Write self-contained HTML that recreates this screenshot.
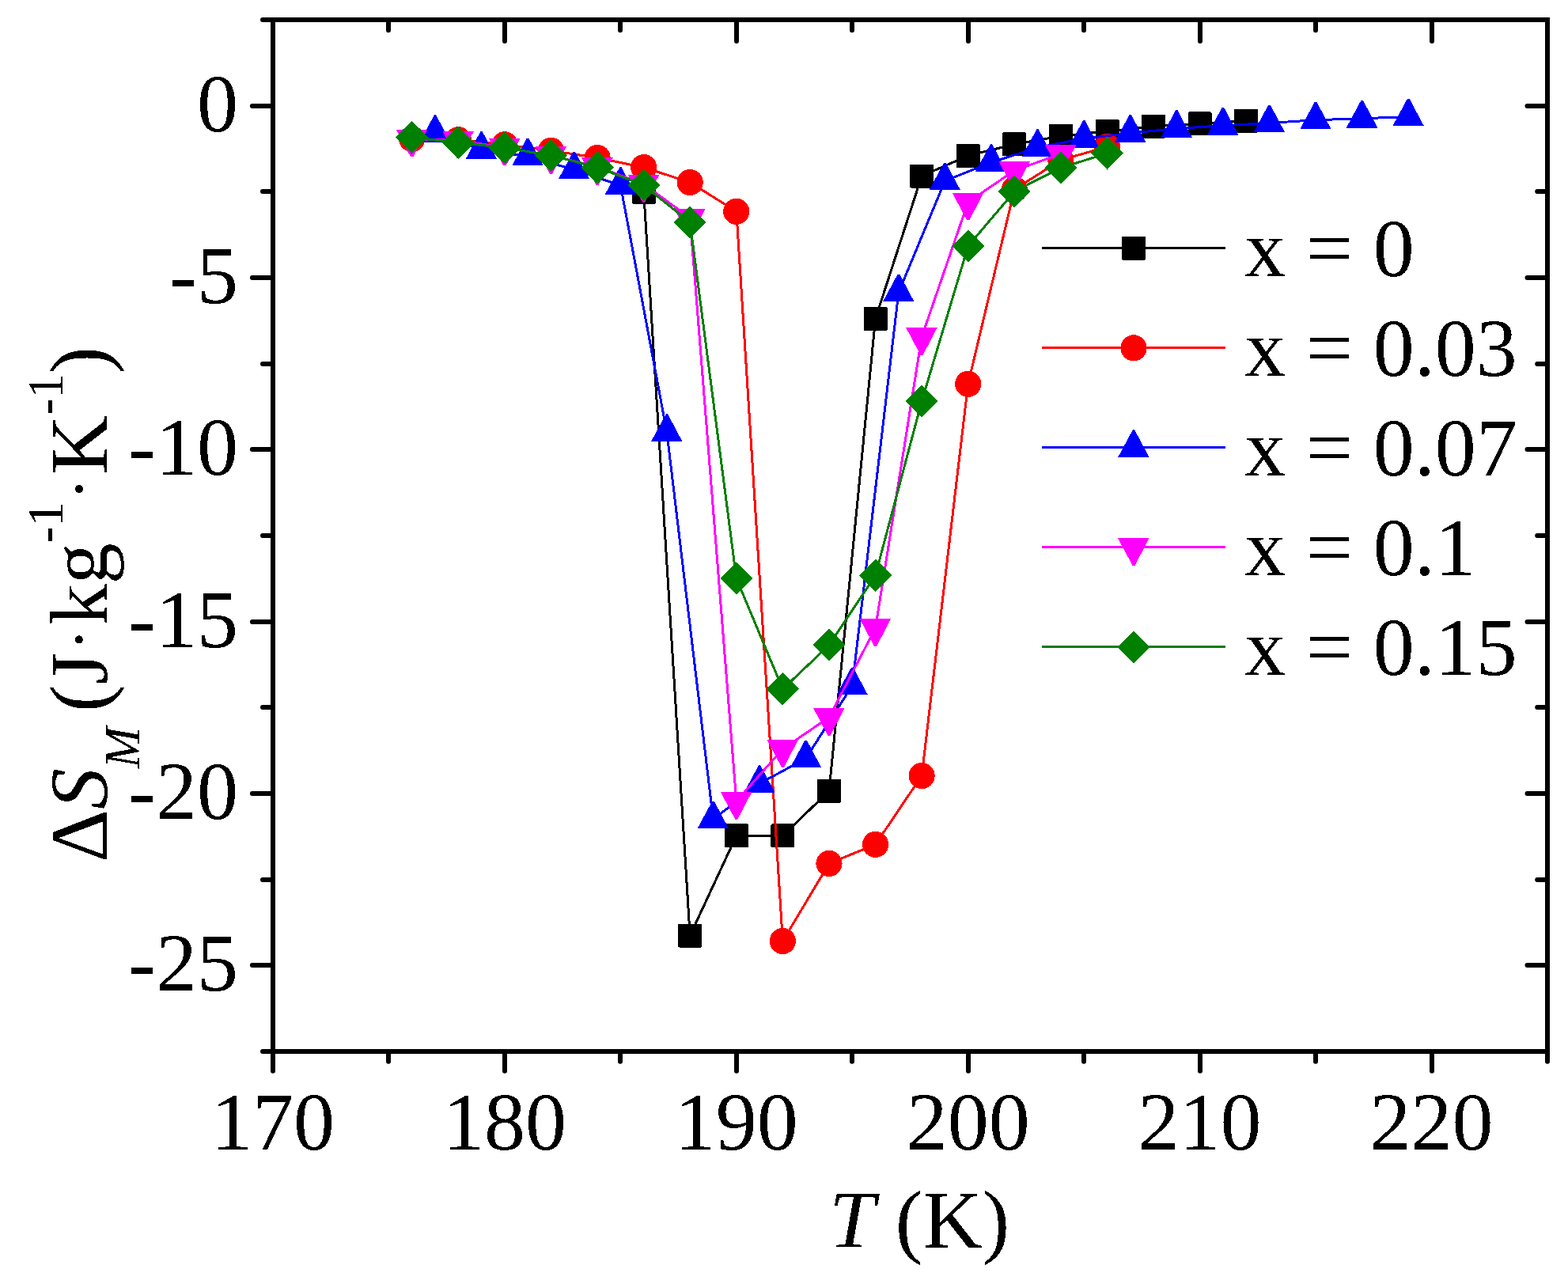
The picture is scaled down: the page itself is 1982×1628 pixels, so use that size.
<!DOCTYPE html>
<html><head><meta charset="utf-8"><title>Entropy change plot</title>
<style>
html,body{margin:0;padding:0;background:#fff;}
svg{display:block;}
text{font-family:"Liberation Serif","Times New Roman",serif;font-size:104px;fill:#000;}
</style></head><body>
<svg width="1982" height="1628" viewBox="0 0 1982 1628">
<defs><filter id="bin" filterUnits="userSpaceOnUse" x="0" y="0" width="1982" height="1628"><feComponentTransfer><feFuncA type="discrete" tableValues="0 1"/></feComponentTransfer></filter></defs>
<rect width="1982" height="1628" fill="#fff"/>
<g id="plot" shape-rendering="crispEdges">
<polyline points="813.7,242.7 872.2,1182.5 930.8,1056.4 989.4,1056.4 1048,999.8 1106.6,402.9 1165.1,222.5 1223.7,196.8 1282.3,182.4 1340.9,172 1399.5,165.9 1458.1,159.8 1516.6,156.4 1575.2,152.6" fill="none" stroke="#000000" stroke-width="3" stroke-linejoin="round"/>
<rect x="798.7" y="227.7" width="30" height="30" rx="1.5" fill="#000000"/><rect x="857.2" y="1167.5" width="30" height="30" rx="1.5" fill="#000000"/><rect x="915.8" y="1041.4" width="30" height="30" rx="1.5" fill="#000000"/><rect x="974.4" y="1041.4" width="30" height="30" rx="1.5" fill="#000000"/><rect x="1033" y="984.8" width="30" height="30" rx="1.5" fill="#000000"/><rect x="1091.6" y="387.9" width="30" height="30" rx="1.5" fill="#000000"/><rect x="1150.1" y="207.5" width="30" height="30" rx="1.5" fill="#000000"/><rect x="1208.7" y="181.8" width="30" height="30" rx="1.5" fill="#000000"/><rect x="1267.3" y="167.4" width="30" height="30" rx="1.5" fill="#000000"/><rect x="1325.9" y="157" width="30" height="30" rx="1.5" fill="#000000"/><rect x="1384.5" y="150.9" width="30" height="30" rx="1.5" fill="#000000"/><rect x="1443.1" y="144.8" width="30" height="30" rx="1.5" fill="#000000"/><rect x="1501.6" y="141.4" width="30" height="30" rx="1.5" fill="#000000"/><rect x="1560.2" y="137.6" width="30" height="30" rx="1.5" fill="#000000"/>
<polyline points="520.7,175.6 579.3,176.8 637.9,182.8 696.5,190.4 755.1,199.5 813.7,211.6 872.2,230.5 930.8,267.3 989.4,1189.5 1048,1091.4 1106.6,1067.4 1165.1,980.6 1223.7,485.2 1282.3,239.4 1340.9,202.4 1399.5,185.5" fill="none" stroke="#FF0000" stroke-width="3" stroke-linejoin="round"/>
<circle cx="520.7" cy="175.6" r="16.6" fill="#FF0000"/><circle cx="579.3" cy="176.8" r="16.6" fill="#FF0000"/><circle cx="637.9" cy="182.8" r="16.6" fill="#FF0000"/><circle cx="696.5" cy="190.4" r="16.6" fill="#FF0000"/><circle cx="755.1" cy="199.5" r="16.6" fill="#FF0000"/><circle cx="813.7" cy="211.6" r="16.6" fill="#FF0000"/><circle cx="872.2" cy="230.5" r="16.6" fill="#FF0000"/><circle cx="930.8" cy="267.3" r="16.6" fill="#FF0000"/><circle cx="989.4" cy="1189.5" r="16.6" fill="#FF0000"/><circle cx="1048" cy="1091.4" r="16.6" fill="#FF0000"/><circle cx="1106.6" cy="1067.4" r="16.6" fill="#FF0000"/><circle cx="1165.1" cy="980.6" r="16.6" fill="#FF0000"/><circle cx="1223.7" cy="485.2" r="16.6" fill="#FF0000"/><circle cx="1282.3" cy="239.4" r="16.6" fill="#FF0000"/><circle cx="1340.9" cy="202.4" r="16.6" fill="#FF0000"/><circle cx="1399.5" cy="185.5" r="16.6" fill="#FF0000"/>
<polyline points="550,168.4 608.6,189.3 667.2,197.5 725.8,214.6 784.4,234.4 842.9,546.4 901.5,1035.5 960.1,990.4 1018.7,958.6 1077.3,866.5 1135.9,369.5 1194.4,228.6 1253,205.3 1311.6,186.4 1370.2,175.2 1428.8,168.2 1487.3,162.4 1545.9,158.8 1604.5,155.5 1663.1,151.7 1721.7,149.8 1780.3,147.5" fill="none" stroke="#0000FF" stroke-width="3" stroke-linejoin="round"/>
<path d="M548.8 145.4L551.2 145.4L569.6 180.1L530.1 180.1Z" fill="#0000FF"/><path d="M607.4 166.3L609.8 166.3L628.2 201L588.7 201Z" fill="#0000FF"/><path d="M666 174.5L668.4 174.5L686.8 209.2L647.3 209.2Z" fill="#0000FF"/><path d="M724.6 191.6L727 191.6L745.4 226.3L705.9 226.3Z" fill="#0000FF"/><path d="M783.2 211.4L785.6 211.4L804 246.1L764.5 246.1Z" fill="#0000FF"/><path d="M841.7 523.4L844.1 523.4L862.5 558.1L823 558.1Z" fill="#0000FF"/><path d="M900.3 1012.5L902.7 1012.5L921.1 1047.2L881.6 1047.2Z" fill="#0000FF"/><path d="M958.9 967.4L961.3 967.4L979.7 1002.1L940.2 1002.1Z" fill="#0000FF"/><path d="M1017.5 935.6L1019.9 935.6L1038.3 970.3L998.8 970.3Z" fill="#0000FF"/><path d="M1076.1 843.5L1078.5 843.5L1096.9 878.2L1057.4 878.2Z" fill="#0000FF"/><path d="M1134.7 346.5L1137.1 346.5L1155.5 381.2L1116 381.2Z" fill="#0000FF"/><path d="M1193.2 205.6L1195.6 205.6L1214 240.3L1174.5 240.3Z" fill="#0000FF"/><path d="M1251.8 182.3L1254.2 182.3L1272.6 217L1233.1 217Z" fill="#0000FF"/><path d="M1310.4 163.4L1312.8 163.4L1331.2 198.1L1291.7 198.1Z" fill="#0000FF"/><path d="M1369 152.2L1371.4 152.2L1389.8 186.9L1350.3 186.9Z" fill="#0000FF"/><path d="M1427.6 145.2L1430 145.2L1448.4 179.9L1408.9 179.9Z" fill="#0000FF"/><path d="M1486.1 139.4L1488.5 139.4L1506.9 174.1L1467.4 174.1Z" fill="#0000FF"/><path d="M1544.7 135.8L1547.1 135.8L1565.5 170.5L1526 170.5Z" fill="#0000FF"/><path d="M1603.3 132.5L1605.7 132.5L1624.1 167.2L1584.6 167.2Z" fill="#0000FF"/><path d="M1661.9 128.7L1664.3 128.7L1682.7 163.4L1643.2 163.4Z" fill="#0000FF"/><path d="M1720.5 126.8L1722.9 126.8L1741.3 161.5L1701.8 161.5Z" fill="#0000FF"/><path d="M1779.1 124.5L1781.5 124.5L1799.9 159.2L1760.4 159.2Z" fill="#0000FF"/>
<polyline points="520.7,175.5 579.3,177.5 637.9,186.5 696.5,196.7 755.1,210.8 813.7,232.7 872.2,275.5 930.8,1012.6 989.4,946.7 1048,906.7 1106.6,793.8 1165.1,425.8 1223.7,255.5 1282.3,215.5 1340.9,194.5" fill="none" stroke="#FF00FF" stroke-width="3" stroke-linejoin="round"/>
<path d="M500.8 163.9L540.3 163.9L522.3 198.4L519.1 198.4Z" fill="#FF00FF"/><path d="M559.4 165.9L598.9 165.9L580.9 200.4L577.7 200.4Z" fill="#FF00FF"/><path d="M618 174.9L657.5 174.9L639.5 209.4L636.3 209.4Z" fill="#FF00FF"/><path d="M676.6 185.1L716.1 185.1L698.1 219.6L694.9 219.6Z" fill="#FF00FF"/><path d="M735.2 199.2L774.7 199.2L756.7 233.7L753.5 233.7Z" fill="#FF00FF"/><path d="M793.8 221.1L833.3 221.1L815.3 255.6L812.1 255.6Z" fill="#FF00FF"/><path d="M852.3 263.9L891.8 263.9L873.8 298.4L870.6 298.4Z" fill="#FF00FF"/><path d="M910.9 1001L950.4 1001L932.4 1035.5L929.2 1035.5Z" fill="#FF00FF"/><path d="M969.5 935.1L1009 935.1L991 969.6L987.8 969.6Z" fill="#FF00FF"/><path d="M1028.1 895.1L1067.6 895.1L1049.6 929.6L1046.4 929.6Z" fill="#FF00FF"/><path d="M1086.7 782.2L1126.2 782.2L1108.2 816.7L1105 816.7Z" fill="#FF00FF"/><path d="M1145.2 414.2L1184.7 414.2L1166.7 448.7L1163.5 448.7Z" fill="#FF00FF"/><path d="M1203.8 243.9L1243.3 243.9L1225.3 278.4L1222.1 278.4Z" fill="#FF00FF"/><path d="M1262.4 203.9L1301.9 203.9L1283.9 238.4L1280.7 238.4Z" fill="#FF00FF"/><path d="M1321 182.9L1360.5 182.9L1342.5 217.4L1339.3 217.4Z" fill="#FF00FF"/>
<polyline points="520.7,173.7 579.3,180.2 637.9,186.6 696.5,196.4 755.1,211.6 813.7,234.1 872.2,281.2 930.8,731.1 989.4,871 1048,815.4 1106.6,727.1 1165.1,507.2 1223.7,311 1282.3,242 1340.9,212 1399.5,193.9" fill="none" stroke="#008000" stroke-width="3" stroke-linejoin="round"/>
<path d="M520.7 153.1L541.3 173.7L520.7 194.3L500.1 173.7Z" fill="#008000"/><path d="M579.3 159.6L599.9 180.2L579.3 200.8L558.7 180.2Z" fill="#008000"/><path d="M637.9 166L658.5 186.6L637.9 207.2L617.3 186.6Z" fill="#008000"/><path d="M696.5 175.8L717.1 196.4L696.5 217L675.9 196.4Z" fill="#008000"/><path d="M755.1 191L775.7 211.6L755.1 232.2L734.5 211.6Z" fill="#008000"/><path d="M813.7 213.5L834.3 234.1L813.7 254.7L793.1 234.1Z" fill="#008000"/><path d="M872.2 260.6L892.8 281.2L872.2 301.8L851.6 281.2Z" fill="#008000"/><path d="M930.8 710.5L951.4 731.1L930.8 751.7L910.2 731.1Z" fill="#008000"/><path d="M989.4 850.4L1010 871L989.4 891.6L968.8 871Z" fill="#008000"/><path d="M1048 794.8L1068.6 815.4L1048 836L1027.4 815.4Z" fill="#008000"/><path d="M1106.6 706.5L1127.2 727.1L1106.6 747.7L1086 727.1Z" fill="#008000"/><path d="M1165.1 486.6L1185.7 507.2L1165.1 527.8L1144.5 507.2Z" fill="#008000"/><path d="M1223.7 290.4L1244.3 311L1223.7 331.6L1203.1 311Z" fill="#008000"/><path d="M1282.3 221.4L1302.9 242L1282.3 262.6L1261.7 242Z" fill="#008000"/><path d="M1340.9 191.4L1361.5 212L1340.9 232.6L1320.3 212Z" fill="#008000"/><path d="M1399.5 173.3L1420.1 193.9L1399.5 214.5L1378.9 193.9Z" fill="#008000"/>
</g>
<g id="axes">
<rect x="345" y="25" width="1611" height="1304" fill="none" stroke="#000" stroke-width="6"/>
<path d="M345 1329V1353.7M345 25V52M491 1329V1341.7M491 25V38.2M638 1329V1353.7M638 25V52M784 1329V1341.7M784 25V38.2M931 1329V1353.7M931 25V52M1077 1329V1341.7M1077 25V38.2M1224 1329V1353.7M1224 25V52M1370 1329V1341.7M1370 25V38.2M1517 1329V1353.7M1517 25V52M1663 1329V1341.7M1663 25V38.2M1810 1329V1353.7M1810 25V52M1956 1329V1341.7M1956 25V38.2M345 25H332M1956 25H1943.2M345 134H318.9M1956 134H1930.5M345 242H332M1956 242H1943.2M345 351H318.9M1956 351H1930.5M345 460H332M1956 460H1943.2M345 568H318.9M1956 568H1930.5M345 677H332M1956 677H1943.2M345 786H318.9M1956 786H1930.5M345 894H332M1956 894H1943.2M345 1003H318.9M1956 1003H1930.5M345 1112H332M1956 1112H1943.2M345 1220H318.9M1956 1220H1930.5M345 1329H332M1956 1329H1943.2" fill="none" stroke="#000" stroke-width="6" stroke-linecap="round"/>
</g>
<g id="legend" shape-rendering="crispEdges">
<path d="M1317 313.5H1549" stroke="#000000" stroke-width="3"/>
<rect x="1418" y="298.8" width="30" height="30" rx="1.5" fill="#000000"/>
<path d="M1317 439.5H1549" stroke="#FF0000" stroke-width="3"/>
<circle cx="1433" cy="439.8" r="16.6" fill="#FF0000"/>
<path d="M1317 565.5H1549" stroke="#0000FF" stroke-width="3"/>
<path d="M1431.8 543.3L1434.2 543.3L1452.6 578L1413.1 578Z" fill="#0000FF"/>
<path d="M1317 691.5H1549" stroke="#FF00FF" stroke-width="3"/>
<path d="M1413.1 680.2L1452.6 680.2L1434.6 714.7L1431.4 714.7Z" fill="#FF00FF"/>
<path d="M1317 817.5H1549" stroke="#008000" stroke-width="3"/>
<path d="M1433 797.2L1453.6 817.8L1433 838.4L1412.4 817.8Z" fill="#008000"/>
</g>
<g id="labels" filter="url(#bin)">
<text x="301" y="166" text-anchor="end">0</text>
<text x="301" y="383" text-anchor="end">-5</text>
<text x="301" y="600" text-anchor="end">-10</text>
<text x="301" y="818" text-anchor="end">-15</text>
<text x="301" y="1035" text-anchor="end">-20</text>
<text x="301" y="1252" text-anchor="end">-25</text>
<text x="345" y="1452.5" text-anchor="middle">170</text>
<text x="637.9" y="1452.5" text-anchor="middle">180</text>
<text x="930.8" y="1452.5" text-anchor="middle">190</text>
<text x="1223.7" y="1452.5" text-anchor="middle">200</text>
<text x="1516.6" y="1452.5" text-anchor="middle">210</text>
<text x="1809.5" y="1452.5" text-anchor="middle">220</text>
<text x="1048" y="1577"><tspan font-style="italic">T</tspan> (K)</text>
<text x="1573" y="348.5">x = 0</text>
<text x="1573" y="474.5">x = 0.03</text>
<text x="1573" y="600.5">x = 0.07</text>
<text x="1573" y="726.5">x = 0.1</text>
<text x="1573" y="852.5">x = 0.15</text>
<text transform="rotate(-90)" x="-1090" y="135">Δ<tspan font-style="italic">S</tspan><tspan font-style="italic" font-size="62.4" dy="40.6">M</tspan><tspan dy="-40.6" dx="-7"> (J</tspan><tspan font-size="86" dx="2.25" dy="-6">·</tspan><tspan dx="3.75" dy="6">kg</tspan><tspan font-size="62.4" dy="-56">-1</tspan><tspan font-size="86" dx="2.25" dy="50">·</tspan><tspan dx="3.75" dy="6">K</tspan><tspan font-size="62.4" dy="-56">-1</tspan><tspan dy="56">)</tspan></text>
</g>
</svg>
</body></html>
